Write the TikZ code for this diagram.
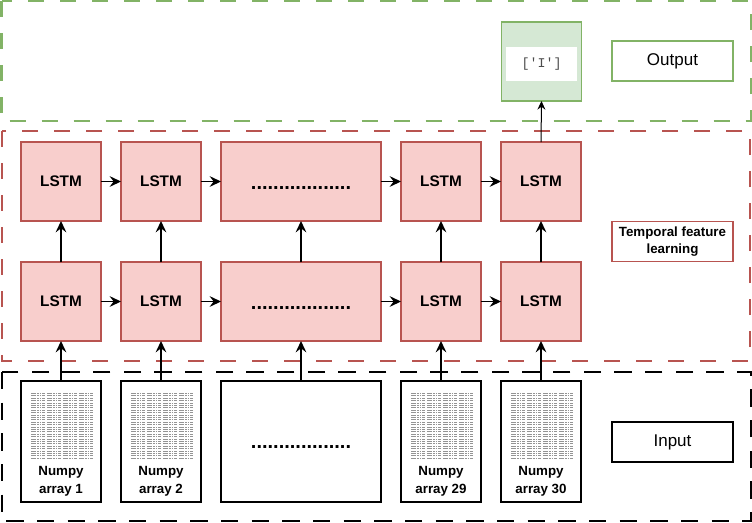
\documentclass[tikz,border=0pt]{standalone}
\usepackage{fontspec}
\setmainfont{Liberation Sans}
\newfontfamily\monof{Liberation Mono}
\usetikzlibrary{arrows.meta}
\definecolor{lstmfill}{HTML}{F8CECC}
\definecolor{lstmline}{HTML}{B85450}
\definecolor{grfill}{HTML}{D5E8D4}
\definecolor{grline}{HTML}{82B366}
\newcommand\npimg[1]{%
  \begin{scope}[shift={(#1.center)}]
    \foreach \cx in {-30,-14,2,18}{
      \foreach \ry in {-48,-45.6,...,19}{
        \draw[black!42,line width=0.75pt,dash pattern=on 1.2pt off 0.5pt on 2.4pt off 0.4pt on 1.6pt off 0.5pt]
          (\cx,\ry) -- ++(13.5,0);
      }
    }
  \end{scope}}
\begin{document}
\begin{tikzpicture}[x=0.75pt,y=-0.75pt,
  lstm/.style={draw=lstmline,fill=lstmfill,line width=1.1pt,minimum width=60pt,minimum height=59.25pt,inner sep=0pt,outer sep=0pt,font=\fontsize{11.5pt}{13pt}\selectfont\bfseries},
  wide/.style={lstm,minimum width=120pt},
  inbox/.style={draw=black,line width=1.5pt,minimum width=60pt,minimum height=90.75pt,inner sep=0pt,outer sep=0pt},
  lbl/.style={line width=1.2pt,minimum width=90.75pt,minimum height=30pt,inner sep=0pt,outer sep=0pt,fill=white},
  npt/.style={align=center,font=\fontsize{10pt}{13.5pt}\selectfont\bfseries,inner sep=0pt},
  dots/.style={font=\fontsize{15pt}{16pt}\selectfont\bfseries,inner sep=0pt,anchor=base},
  arr/.style={-{Stealth[length=8.5pt,width=8pt,inset=3pt]},line width=1.1pt},
  thinarr/.style={-{Stealth[length=6.5pt,width=6pt,inset=2.2pt]},line width=0.75pt},
  grp/.style={line width=1.5pt,dash pattern=on 12pt off 12pt}
]
\useasboundingbox (0,0) rectangle (752,522);
% group frames
\draw[grp,draw=grline] (1.5,1) rectangle (750.5,121);
\draw[grp,draw=lstmline] (2,131) rectangle (750,361);
\draw[grp,draw=black,dash pattern=on 13pt off 10pt] (2,372) rectangle (750.5,521);

% LSTM grid
\node[lstm] (t1) at (61,181.5) {LSTM};
\node[lstm] (t2) at (161,181.5) {LSTM};
\node[wide] (t3) at (301,181.5) {};
\node[lstm] (t4) at (441,181.5) {LSTM};
\node[lstm] (t5) at (541,181.5) {LSTM};
\node[lstm] (b1) at (61,301.5) {LSTM};
\node[lstm] (b2) at (161,301.5) {LSTM};
\node[wide] (b3) at (301,301.5) {};
\node[lstm] (b4) at (441,301.5) {LSTM};
\node[lstm] (b5) at (541,301.5) {LSTM};
\node[dots] (d1) at (301,189) {..................};
\node[dots] (d2) at (301,309) {..................};

% inputs
\node[inbox] (i1) at (61,441.5) {};
\node[inbox] (i2) at (161,441.5) {};
\node[inbox] (i3) at (301,441.5) [minimum width=120pt] {};
\node[inbox] (i4) at (441,441.5) {};
\node[inbox] (i5) at (541,441.5) {};
\npimg{i1}
\npimg{i2}
\npimg{i4}
\npimg{i5}
\node[npt] (n1) at (61,481) {Numpy\\array 1};
\node[npt] (n2) at (161,481) {Numpy\\array 2};
\node[npt] (n4) at (441,481) {Numpy\\array 29};
\node[npt] (n5) at (541,481) {Numpy\\array 30};
\node[dots] (d3) at (301,448.5) {..................};

% output
\node[draw=grline,fill=grfill,line width=1.1pt,minimum width=60pt,minimum height=59.25pt,inner sep=0pt,outer sep=0pt] (out) at (541.5,61.5) {};
\node[fill=white,minimum width=53.25pt,minimum height=25.5pt,inner sep=0pt,font=\monof\fontsize{10pt}{12pt}\selectfont,text=black!70] (res) at (541.5,64) {['I']};

% labels
\node[lbl,draw=grline,font=\fontsize{12.75pt}{15pt}\selectfont] (lo) at (672.5,61) {Output};
\node[lbl,draw=lstmline,align=center,font=\fontsize{10pt}{12.5pt}\selectfont\bfseries] (lt) at (672.5,241.5) {Temporal feature\\learning};
\node[lbl,draw=black,font=\fontsize{12.75pt}{15pt}\selectfont] (li) at (672.5,442) {Input};

% horizontal arrows
\foreach \a/\b in {t1/t2,t2/t3,t3/t4,t4/t5,b1/b2,b2/b3,b3/b4,b4/b5}{
  \draw[arr] (\a.east) -- (\b.west);
}
% vertical arrows
\foreach \k in {1,...,5}{
  \draw[arr] (b\k.north) -- (t\k.south);
  \draw[arr] (i\k.north) -- (b\k.south);
}
\draw[thinarr] (t5.north) -- (out.south);
\end{tikzpicture}
\end{document}
